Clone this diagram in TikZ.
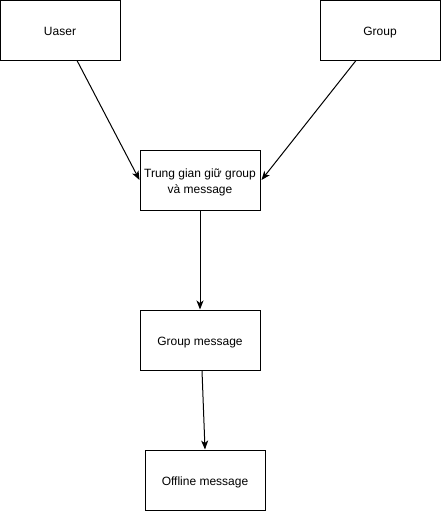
\documentclass[tikz,border=0pt]{standalone}
\usepackage{fontspec}
\setmainfont{Liberation Sans}
\usetikzlibrary{arrows.meta}
\newcommand\mystrut{\rule[-2.6pt]{0pt}{16pt}}
\begin{document}
\begin{tikzpicture}[x=1pt,y=-1pt,
  box/.style={draw=black,line width=1pt,fill=white,minimum width=120pt,minimum height=60pt,inner sep=0pt,align=center,font=\fontsize{12pt}{15.5pt}\selectfont},
  arr/.style={draw=black,line width=1pt,-{Stealth[length=9pt,width=7pt,inset=2.5pt]}}]
\useasboundingbox (0,0) rectangle (442,512);
\node[box] (u) at (60,30) {\mystrut Uaser};
\node[box] (g) at (380,30) {\mystrut Group};
\node[box] (m) at (200,180) {\mystrut Trung gian giữ group\\và message};
\node[box] (gm) at (200,340) {\mystrut Group message};
\node[box] (off) at (205,480) {\mystrut Offline message};
\draw[arr] ([xshift=17pt]u.south) -- (m.west);
\draw[arr] ([xshift=-24pt]g.south) -- ([xshift=1pt]m.east);
\draw[arr] (m.south) -- (gm.north);
\draw[arr] ([xshift=2pt]gm.south) -- (off.north);
\end{tikzpicture}
\end{document}
